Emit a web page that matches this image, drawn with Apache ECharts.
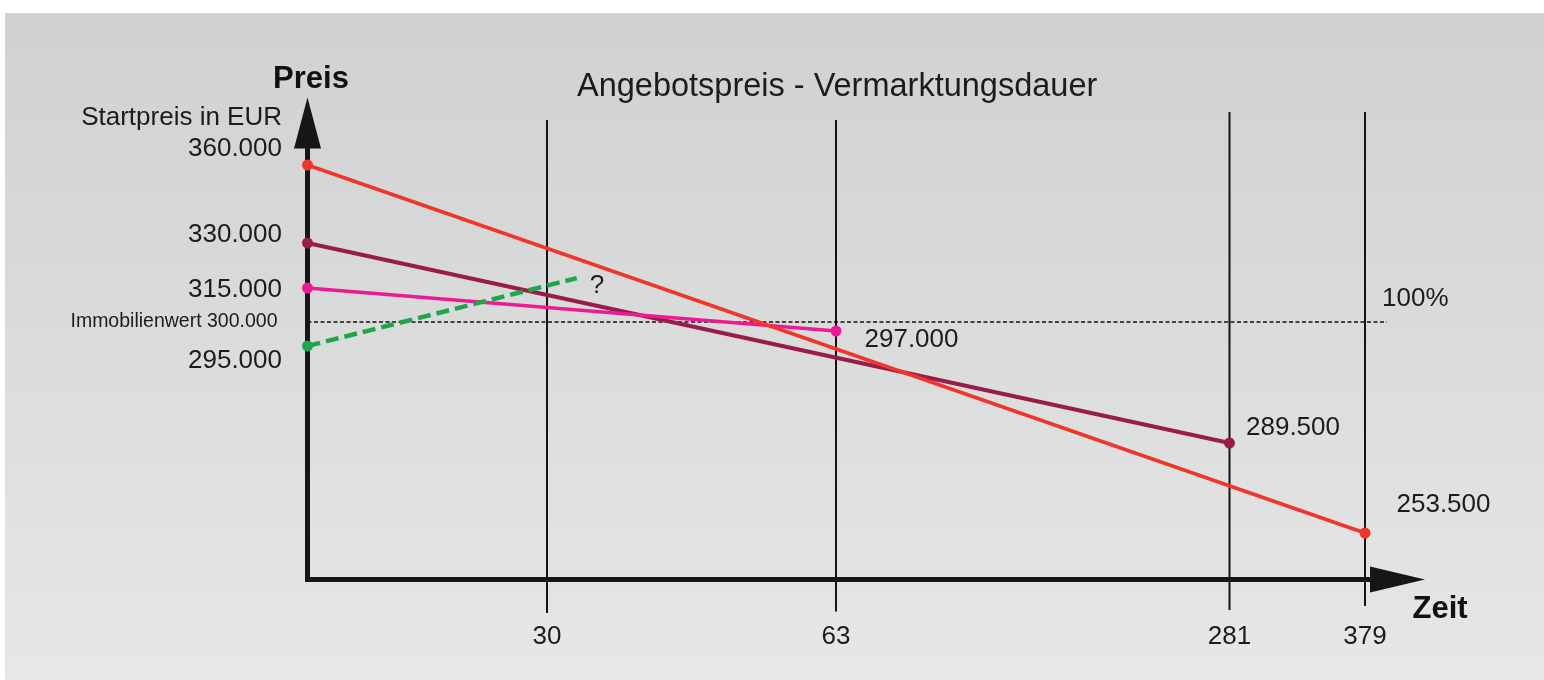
<!DOCTYPE html>
<html><head><meta charset="utf-8">
<script src="https://cdn.jsdelivr.net/npm/echarts@6/dist/echarts.min.js"></script>
<style>
html,body{margin:0;padding:0;background:#fff;width:1544px;height:680px;overflow:hidden}
#chart{position:absolute;left:5px;top:13px;width:1539px;height:667px}
</style></head><body><div id="chart"></div>
<script>
// ---- Data ----
const titleText = 'Angebotspreis - Vermarktungsdauer';
const dayTicks = [30, 63, 281, 379];                 // Zeit (Tage)
const immobilienwert = 300000;                       // Immobilienwert (100%)
// price paths: [day, price in EUR]
const redLine    = [[0, 360000], [379, 253500]];
const purpleLine = [[0, 330000], [281, 289500]];
const pinkLine   = [[0, 315000], [63, 297000]];
const greenLine  = [[0, 295000], [33.4, 318300]];   // end value unknown ("?")

// The drawing is schematic (not to scale): anchor values -> position on its axes
const dayAnchors     = [0, 30, 63, 281, 379];
const dayAnchorPos   = [0, 239.5, 528.5, 922, 1057.5];
const priceAnchors   = [253500, 289500, 295000, 297000, 300000, 315000, 330000, 360000];
const priceAnchorPos = [46.5, 136.5, 233.5, 248.5, 257.5, 291.5, 336.5, 414.5];

function interp(v, xs, ys) {
  let i = 1;
  while (i < xs.length - 1 && v > xs[i]) i++;
  const t = (v - xs[i - 1]) / (xs[i] - xs[i - 1]);
  return ys[i - 1] + t * (ys[i] - ys[i - 1]);
}
const toX = d => interp(d, dayAnchors, dayAnchorPos);
const toY = p => interp(p, priceAnchors, priceAnchorPos);
const fmt = v => String(v).replace(/\B(?=(\d{3})+(?!\d))/g, '.');

const FONT = "'Liberation Sans', Arial, sans-serif";
const TXT = '#1c1c1c';

function priceSeries(name, pts, color, width, layouts, extra) {
  return Object.assign({
    name, type: 'line', z: 5,
    symbol: 'circle', symbolSize: 11,
    lineStyle: { color, width },
    itemStyle: { color },
    label: { show: true, color: TXT, fontFamily: FONT, fontSize: 26 },
    data: pts.map((p, i) => ({
      value: [toX(p[0]), toY(p[1])],
      symbolSize: layouts[i].noSymbol ? 0 : 11,
      label: {
        show: true,
        formatter: layouts[i].text != null ? layouts[i].text : fmt(p[1]),
        position: layouts[i].position,
        distance: layouts[i].distance,
        offset: layouts[i].offset
      }
    }))
  }, extra || {});
}

const vTop = [459.5, 459.5, 467.5, 467.5];
const vBottom = [-33.5, -32, -30.5, -26.5];
const vLines = dayTicks.map((d, i) => ({
  type: 'line', z: 2, clip: false, symbol: 'none', silent: true,
  lineStyle: { color: '#141414', width: 2 },
  data: [[toX(d), vTop[i]], [toX(d), vBottom[i]]]
}));

const refEnd = 1079.5;
const refSeries = {
  name: 'Immobilienwert', type: 'line', z: 3, silent: true,
  symbol: 'circle', symbolSize: 0.01,
  itemStyle: { color: 'rgba(0,0,0,0)' },
  lineStyle: { color: '#111', width: 1.7, type: [4, 2.5] },
  label: { show: true, color: TXT, fontFamily: FONT },
  data: [
    { value: [0, toY(immobilienwert)],
      label: { formatter: 'Immobilienwert ' + fmt(immobilienwert), position: 'left', distance: 30, fontSize: 19.5 } },
    { value: [refEnd, toY(immobilienwert)],
      label: { formatter: '100%', position: 'right', distance: 0, offset: [-5, -23.5], fontSize: 26 } }
  ]
};

const option = {
  animation: false,
  backgroundColor: {
    type: 'linear', x: 0, y: 0, x2: 0, y2: 1,
    colorStops: [{ offset: 0, color: '#cfd1d2' }, { offset: 1, color: '#e6e7e6' }]
  },
  textStyle: { fontFamily: FONT },
  title: [
    { text: titleText, left: 572, top: 58, padding: 0,
      textStyle: { fontSize: 32.5, fontWeight: 'normal', color: TXT, fontFamily: FONT } },
    { text: 'Startpreis in EUR', right: 1262, top: 92, padding: 0,
      textStyle: { fontSize: 26, fontWeight: 'normal', color: TXT, fontFamily: FONT } }
  ],
  grid: { left: 302.5, right: 146.5, top: 110, bottom: 100.5 },
  xAxis: {
    type: 'value', min: 0, max: 1090,
    name: 'Zeit', nameLocation: 'end', nameGap: 15,
    nameTextStyle: { fontSize: 31, fontWeight: 'bold', color: '#111', fontFamily: FONT,
      verticalAlign: 'top', padding: [14, 0, 0, 0] },
    axisLine: { lineStyle: { color: '#161616', width: 5, cap: 'square' },
      symbol: ['none', 'triangle'], symbolSize: [26, 55] },
    axisTick: { show: false },
    splitLine: { show: false },
    axisLabel: {
      customValues: dayTicks.map(toX),
      formatter: v => { const i = dayTicks.findIndex(d => Math.abs(toX(d) - v) < 0.5); return i >= 0 ? String(dayTicks[i]) : ''; },
      fontSize: 26, color: TXT, fontFamily: FONT, margin: 44
    }
  },
  yAxis: {
    type: 'value', min: 0, max: 456.5,
    name: 'Preis', nameLocation: 'end', nameGap: 28,
    nameTextStyle: { fontSize: 31, fontWeight: 'bold', color: '#111', fontFamily: FONT, padding: [0, 0, 0, 7] },
    axisLine: { lineStyle: { color: '#161616', width: 5, cap: 'square' },
      symbol: ['none', 'triangle'], symbolSize: [27, 51] },
    axisTick: { show: false },
    splitLine: { show: false },
    axisLabel: { show: false }
  },
  series: [
    ...vLines,
    refSeries,
    priceSeries('Startpreis 330.000', purpleLine, '#991c4b', 4, [
      { position: 'left', distance: 20, offset: [0, -8] },
      { position: 'right', distance: 11, offset: [0, -15] }
    ]),
    priceSeries('Startpreis 315.000', pinkLine, '#ee1a94', 3.5, [
      { position: 'left', distance: 20, offset: [0, 2] },
      { position: 'right', distance: 23, offset: [0, 9] }
    ]),
    priceSeries('Startpreis 295.000', greenLine, '#1fa64a', 4.5, [
      { position: 'left', distance: 20, offset: [0, 15] },
      { position: 'right', distance: 13, offset: [0, 8], text: '?', noSymbol: true }
    ], { lineStyle: { color: '#1fa64a', width: 4.5, type: [13, 6] } }),
    priceSeries('Startpreis 360.000', redLine, '#f2352a', 3.5, [
      { position: 'left', distance: 20, offset: [0, -16] },
      { position: 'right', distance: 26, offset: [0, -28] }
    ])
  ]
};

const chart = echarts.init(document.getElementById('chart'));
chart.setOption(option);
</script></body></html>
